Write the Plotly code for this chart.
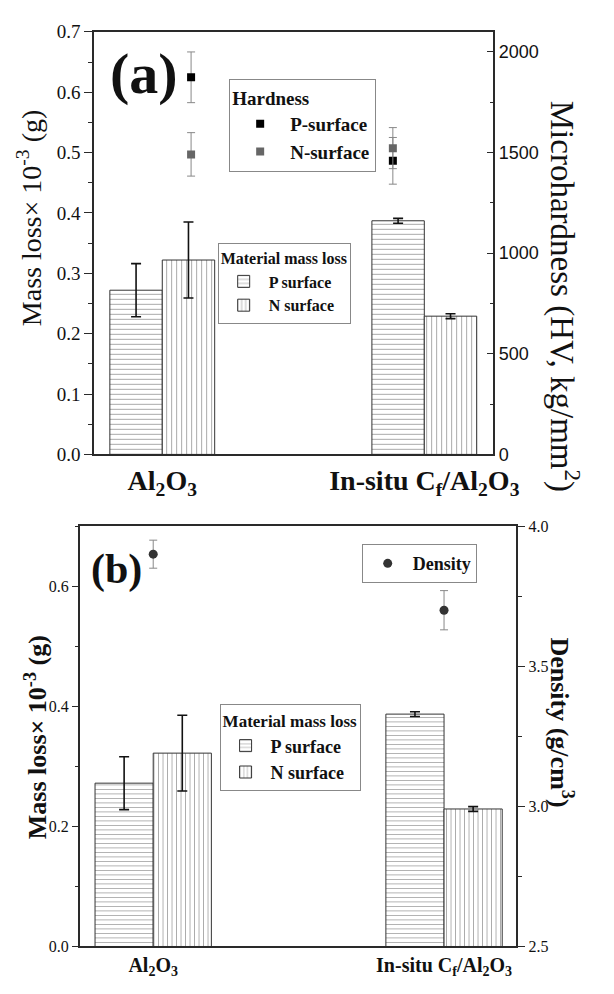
import plotly.graph_objects as go

# ---------------- data ----------------
categories = ["Al<sub>2</sub>O<sub>3</sub>", "In-situ C<sub>f</sub>/Al<sub>2</sub>O<sub>3</sub>"]
cat_pos = [1, 2]

mass_loss_p = [0.272, 0.387]
mass_loss_p_err = [0.044, 0.004]
mass_loss_n = [0.322, 0.229]
mass_loss_n_err = [0.063, 0.004]

hardness_pos = [1.11, 1.88]
hardness_p = [1874, 1459]
hardness_p_err = [126, 116]
hardness_n = [1491, 1522]
hardness_n_err = [108, 102]

density = [3.90, 3.70]
density_err = [0.05, 0.07]

mass_ticks_a = [0.0, 0.1, 0.2, 0.3, 0.4, 0.5, 0.6, 0.7]
hard_ticks = [0, 500, 1000, 1500, 2000]
mass_ticks_b = [0.0, 0.2, 0.4, 0.6]
dens_ticks = [2.5, 3.0, 3.5, 4.0]

SERIF = "Liberation Serif"
SANS = "Liberation Sans"
AX = "#2a2a2a"
BAR_W = 0.2

fig = go.Figure()

def add_bars(xax, yax, legend, psize, show):
    fig.add_trace(go.Bar(
        x=cat_pos, y=mass_loss_p, width=BAR_W, offset=-BAR_W,
        name="P surface", xaxis=xax, yaxis=yax, legend=legend, showlegend=show,
        marker=dict(color="white", line=dict(color="#333", width=1),
                    pattern=dict(shape="-", size=psize, solidity=0.2,
                                 fgcolor="#555", bgcolor="white")),
        error_y=dict(type="data", array=mass_loss_p_err, color="#111",
                     thickness=1.6, width=5),
    ))
    fig.add_trace(go.Bar(
        x=cat_pos, y=mass_loss_n, width=BAR_W, offset=0,
        name="N surface", xaxis=xax, yaxis=yax, legend=legend, showlegend=show,
        marker=dict(color="white", line=dict(color="#333", width=1),
                    pattern=dict(shape="|", size=psize, solidity=0.2,
                                 fgcolor="#555", bgcolor="white")),
        error_y=dict(type="data", array=mass_loss_n_err, color="#111",
                     thickness=1.6, width=5),
    ))

# panel (a)
add_bars("x", "y", "legend2", 5, True)
fig.add_trace(go.Scatter(
    x=hardness_pos, y=hardness_p, mode="markers", name="P-surface",
    xaxis="x", yaxis="y2", legend="legend",
    marker=dict(symbol="square", size=8, color="#000"),
    error_y=dict(type="data", array=hardness_p_err, color="#888", thickness=1, width=4),
))
fig.add_trace(go.Scatter(
    x=hardness_pos, y=hardness_n, mode="markers", name="N-surface",
    xaxis="x", yaxis="y2", legend="legend",
    marker=dict(symbol="square", size=8, color="#666"),
    error_y=dict(type="data", array=hardness_n_err, color="#888", thickness=1, width=4),
))

# panel (b)
add_bars("x2", "y3", "legend4", 4.5, True)
fig.add_trace(go.Scatter(
    x=cat_pos, y=density, mode="markers", name="Density",
    xaxis="x2", yaxis="y4", legend="legend3",
    marker=dict(symbol="circle", size=9, color="#333"),
    error_y=dict(type="data", array=density_err, color="#888", thickness=1, width=4),
))

W, H = 614, 994
def px(x): return x / W
def py(y): return 1 - y / H

common_x = dict(tickmode="array", tickvals=cat_pos, ticktext=categories,
                ticks="", showline=True, linecolor=AX, linewidth=1.5,
                mirror=True, showgrid=False, zeroline=False)

fig.update_layout(
    width=W, height=H, margin=dict(l=0, r=0, t=0, b=0),
    paper_bgcolor="white", plot_bgcolor="white",
    barmode="overlay",
    font=dict(family=SERIF, color="#111"),
    xaxis=dict(common_x, domain=[px(98.3), px(515.3)], range=[0.74, 2.264], anchor="y",
               tickfont=dict(family=SERIF, size=28, weight="bold", color="#111")),
    yaxis=dict(domain=[py(454), py(22.3)], range=[0, 0.7], anchor="x",
               tickmode="array", tickvals=mass_ticks_a, tickformat=".1f",
               ticks="outside", ticklen=8, tickwidth=1.3, tickcolor=AX,
               showline=True, linecolor=AX, linewidth=1.5, showgrid=False, zeroline=False,
               tickfont=dict(family=SERIF, size=19, color="#111"),
               minor=dict(dtick=0.05, ticks="outside", ticklen=4, tickcolor=AX, tickwidth=1.2)),
    yaxis2=dict(overlaying="y", side="right", anchor="x", range=[0, 2100],
                tickmode="array", tickvals=hard_ticks,
                ticks="inside", ticklen=7, tickwidth=1.3, tickcolor=AX,
                showline=True, linecolor=AX, linewidth=1.5, showgrid=False, zeroline=False,
                tickfont=dict(family=SANS, size=18, color="#111"),
                minor=dict(dtick=250, ticks="inside", ticklen=4, tickcolor=AX, tickwidth=1.2)),
    xaxis2=dict(common_x, domain=[px(83.3), px(539.3)], range=[0.7475, 2.249], anchor="y3",
                tickfont=dict(family=SERIF, size=20, weight="bold", color="#111")),
    yaxis3=dict(domain=[py(956.7), py(527.3)], range=[0, 0.7], anchor="x2",
                tickmode="array", tickvals=mass_ticks_b, tickformat=".1f",
                ticks="outside", ticklen=6, tickwidth=1.3, tickcolor=AX,
                showline=True, linecolor=AX, linewidth=1.5, showgrid=False, zeroline=False,
                tickfont=dict(family=SERIF, size=16, color="#111"),
                minor=dict(dtick=0.1, ticks="outside", ticklen=3, tickcolor=AX, tickwidth=1.2)),
    yaxis4=dict(overlaying="y3", side="right", anchor="x2", range=[2.5, 4.0],
                tickmode="array", tickvals=dens_ticks, tickformat=".1f",
                ticks="outside", ticklen=7, tickwidth=1.3, tickcolor=AX,
                showline=True, linecolor=AX, linewidth=1.5, showgrid=False, zeroline=False,
                tickfont=dict(family=SERIF, size=16, color="#111"),
                minor=dict(dtick=0.25, ticks="outside", ticklen=4, tickcolor=AX, tickwidth=1.2)),
    legend=dict(x=px(239.3), y=py(70.7), xanchor="left", yanchor="top",
                bgcolor="white", bordercolor="#888", borderwidth=1,
                title=dict(text="Hardness", font=dict(family=SERIF, size=19, weight="bold")),
                font=dict(family=SERIF, size=19, weight="bold", color="#111"),
                itemwidth=50, tracegroupgap=0),
    legend2=dict(x=px(227.3), y=py(237.7), xanchor="left", yanchor="top",
                 bgcolor="white", bordercolor="#888", borderwidth=1,
                 title=dict(text="Material mass loss", font=dict(family=SERIF, size=16, weight="bold")),
                 font=dict(family=SERIF, size=16, weight="bold", color="#111"),
                 itemwidth=40, tracegroupgap=0),
    legend3=dict(x=px(377.7), y=py(545.7), xanchor="left", yanchor="top",
                 bgcolor="white", bordercolor="#888", borderwidth=1,
                 font=dict(family=SERIF, size=18, weight="bold", color="#111"),
                 itemwidth=40),
    legend4=dict(x=px(229.3), y=py(709.3), xanchor="left", yanchor="top",
                 bgcolor="white", bordercolor="#888", borderwidth=1,
                 title=dict(text="Material mass loss", font=dict(family=SERIF, size=17, weight="bold")),
                 font=dict(family=SERIF, size=18, weight="bold", color="#111"),
                 itemwidth=40, tracegroupgap=0),
)

annotations = [
    dict(text="Mass loss× 10<sup>-3</sup> (g)", x=px(31), y=py(213), textangle=-90,
         font=dict(family=SERIF, size=28, color="#111")),
    dict(text="Microhardness (HV, kg/mm<sup>2</sup>)", x=px(589), y=py(292), textangle=90,
         font=dict(family=SERIF, size=33, color="#111")),
    dict(text="(a)", x=px(150), y=py(65),
         font=dict(family=SERIF, size=58, weight="bold", color="#111")),
    dict(text="Mass loss× 10<sup>-3</sup> (g)", x=px(38), y=py(742.5), textangle=-90,
         font=dict(family=SERIF, size=26, weight="bold", color="#111")),
    dict(text="Density (g/cm<sup>3</sup>)", x=px(586), y=py(728), textangle=90,
         font=dict(family=SERIF, size=26, weight="bold", color="#111")),
    dict(text="(b)", x=px(121.7), y=py(571.5),
         font=dict(family=SERIF, size=42, weight="bold", color="#111")),
]
for a in annotations:
    a.update(xref="paper", yref="paper", xanchor="center", yanchor="middle", showarrow=False)
fig.update_layout(annotations=annotations)

fig.write_html(
    "out.html",
    config={"displayModeBar": False},
    post_script="document.body.style.margin='0';document.body.style.overflow='hidden';",
)
